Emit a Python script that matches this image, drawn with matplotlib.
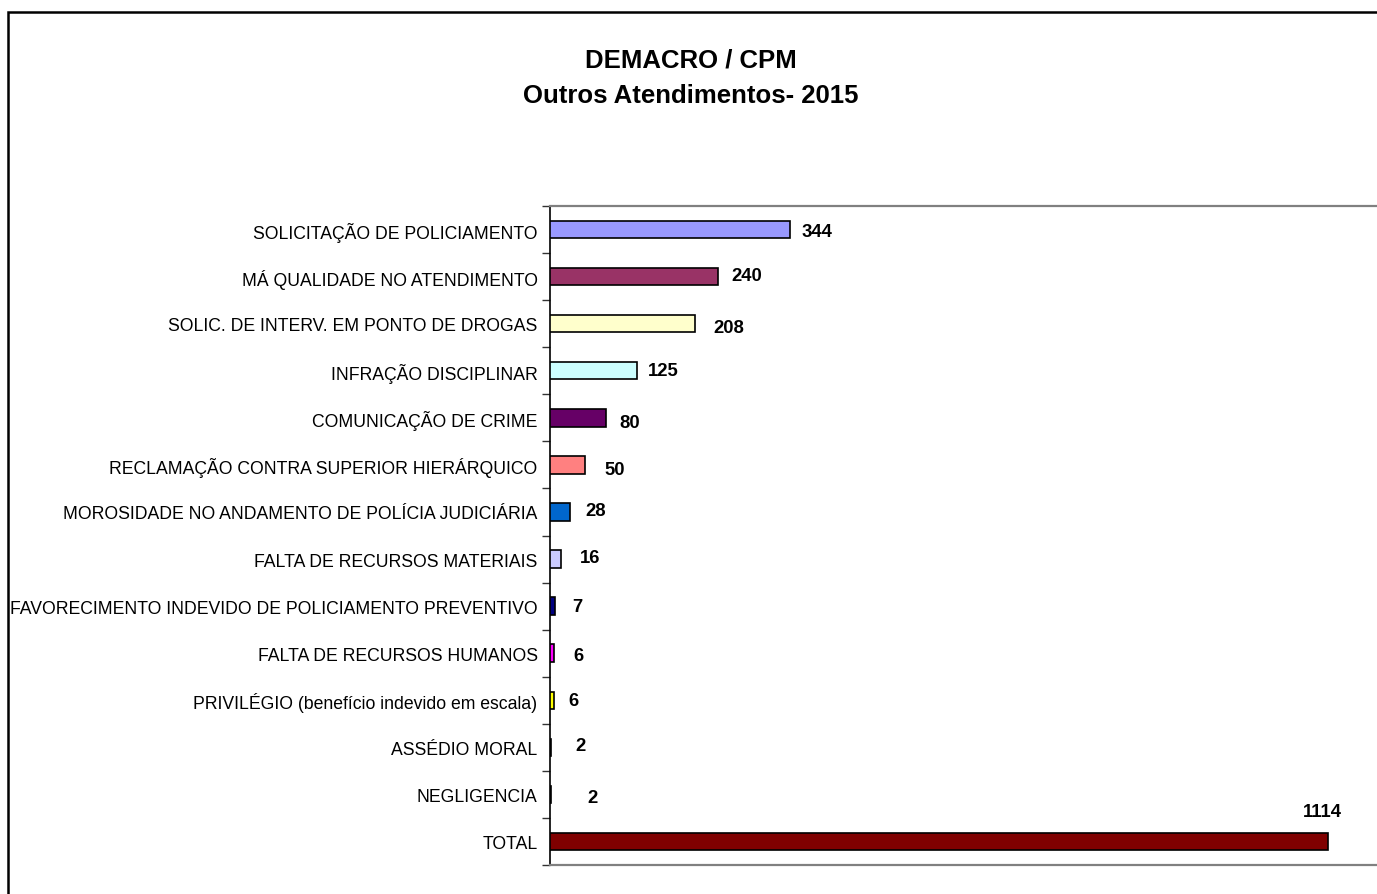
import matplotlib
matplotlib.use("Agg")
import matplotlib.pyplot as plt
from matplotlib.patches import Rectangle

categories = [
    "SOLICITAÇÃO DE POLICIAMENTO",
    "MÁ QUALIDADE NO ATENDIMENTO",
    "SOLIC. DE INTERV. EM PONTO DE DROGAS",
    "INFRAÇÃO DISCIPLINAR",
    "COMUNICAÇÃO DE CRIME",
    "RECLAMAÇÃO CONTRA SUPERIOR HIERÁRQUICO",
    "MOROSIDADE NO ANDAMENTO DE POLÍCIA JUDICIÁRIA",
    "FALTA DE RECURSOS MATERIAIS",
    "FAVORECIMENTO INDEVIDO DE POLICIAMENTO PREVENTIVO",
    "FALTA DE RECURSOS HUMANOS",
    "PRIVILÉGIO (benefício indevido em escala)",
    "ASSÉDIO MORAL",
    "NEGLIGENCIA",
    "TOTAL",
]
values = [344, 240, 208, 125, 80, 50, 28, 16, 7, 6, 6, 2, 2, 1114]
colors = ["#9999FF", "#993366", "#FFFFCC", "#CCFFFF", "#660066", "#FF8080",
          "#0066CC", "#CCCCFF", "#000080", "#FF00FF", "#FFFF00", "#00FFFF",
          "#800080", "#800000"]
title_lines = ["DEMACRO / CPM", "Outros Atendimentos- 2015"]

# label offsets (pixels) relative to bar end / center - styling only
label_dx = [11, 14, 18, 11, 14, 20, 16, 19, 17, 19, 14, 24, 36, -25]
label_dy = [-2, 1, -4, 0, -5, -5, 1, 2, 0, -2, 0, 2, -3, 30]

W, H = 1377, 895
fig = plt.figure(figsize=(W / 100, H / 100), dpi=100)
fig.patch.set_facecolor("white")

# outer chart border
fig.add_artist(Rectangle((8 / W, -0.05), 1.1, 1 - 13 / H + 0.05,
                         transform=fig.transFigure, fill=False,
                         edgecolor="black", linewidth=1.8))

ax_left, ax_right = 550, 1400
ax_top, ax_bot = 207, 866
ax = fig.add_axes([ax_left / W, 1 - ax_bot / H, (ax_right - ax_left) / W,
                   (ax_bot - ax_top) / H])

n = len(categories)
ypos = list(range(n))
ax.barh(ypos, values, height=0.37, color=colors, edgecolor="black",
        linewidth=1.2, zorder=3)
scale = (1328 - ax_left) / 1114.0
ax.set_xlim(0, (ax_right - ax_left) / scale)
ax.set_ylim(n - 0.5, -0.5)

for i, v in enumerate(values):
    ax.annotate(str(v), xy=(v, i), xytext=(label_dx[i], label_dy[i]),
                textcoords="offset pixels", ha="left", va="center",
                fontsize=13.3, fontweight="bold", family="Liberation Sans",
                color="black", zorder=5)

ax.set_yticks(ypos)
ax.set_yticklabels(categories, family="Liberation Sans", fontsize=12.7)
ax.set_yticks([k - 0.5 for k in range(n + 1)], minor=True)
ax.tick_params(axis="y", which="major", length=0, pad=9)
ax.tick_params(axis="y", which="minor", length=6, width=1, color="#333333",
               direction="out")
ax.set_xticks([])

for s in ("top", "bottom"):
    ax.spines[s].set_color("#808080")
    ax.spines[s].set_linewidth(1.6)
ax.spines["right"].set_visible(False)
ax.spines["left"].set_color("black")
ax.spines["left"].set_linewidth(1.2)

fig.text(691 / W, 1 - 60 / H, title_lines[0], ha="center", va="center",
         fontsize=18.5, fontweight="bold", family="Liberation Sans")
fig.text(691 / W, 1 - 96 / H, title_lines[1], ha="center", va="center",
         fontsize=18.5, fontweight="bold", family="Liberation Sans")

fig.savefig("out.png", dpi=100)
